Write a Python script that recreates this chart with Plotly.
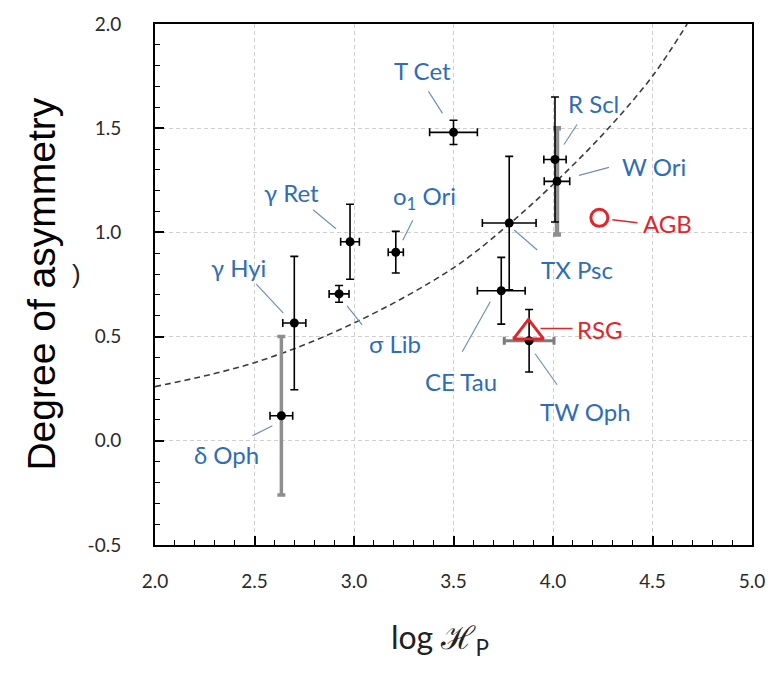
import plotly.graph_objects as go

# ---------------- data ----------------
star_names = ["δ Oph", "γ Hyi", "σ Lib", "γ Ret", "o<sub>1</sub> Ori", "T Cet",
              "CE Tau", "TX Psc", "TW Oph", "R Scl", "W Ori"]
log_hp = [2.635, 2.70, 2.925, 2.98, 3.21, 3.50, 3.74, 3.78, 3.88, 4.01, 4.02]
log_hp_err = [0.057, 0.058, 0.05, 0.047, 0.038, 0.12, 0.12, 0.135, 0.125, 0.056, 0.064]
asymmetry = [0.12, 0.565, 0.705, 0.955, 0.905, 1.48, 0.72, 1.045, 0.48, 1.35, 1.245]
asymmetry_err = [0.38, 0.32, 0.04, 0.18, 0.10, 0.058, 0.16, 0.32, 0.15, 0.30, 0.255]

group_names = ["AGB", "RSG"]
group_x = [4.233, 3.877]
group_y = [1.07, 0.52]

curve_x = [2.0, 2.5, 3.0, 3.5, 3.78, 4.0, 4.25, 4.5, 4.674]
curve_y = [0.26, 0.375, 0.565, 0.83, 1.04, 1.23, 1.47, 1.75, 2.0]

x_tick_vals = [2.0, 2.5, 3.0, 3.5, 4.0, 4.5, 5.0]
x_tick_text = ["2.0", "2.5", "3.0", "3.5", "4.0", "4.5", "5.0"]
y_tick_vals = [-0.5, 0.0, 0.5, 1.0, 1.5, 2.0]
y_tick_text = ["-0.5", "0.0", "0.5", "1.0", "1.5", "2.0"]

# ---------------- styling / layout (not data) ----------------
BLUE = "#2f6db5"
LEADER = "#7090b8"
RED = "#e0262b"
LABEL_FONT = dict(family="Lato", size=24, color=BLUE)

# special error-bar styles: name -> {"x"/"y": (color, thickness)}
ERR_STYLE = {
    "δ Oph": {"y": ("#8e8e8e", 3.5)},
    "W Ori": {"y": ("#8e8e8e", 4.5)},
    "TW Oph": {"x": ("#7c7c7c", 3)},
}

# label offsets in screen px relative to the point: (dx, dy, leader x0, y0, x1, y1), y down
LABEL_OFFSETS = {
    "δ Oph": (-55, 39, -29, 20, -9, 10),
    "γ Hyi": (-56, -56, -38, -39, -11, -10),
    "σ Lib": (56, 50, 8, 12, 23, 31),
    "γ Ret": (-59, -49, -37, -32, -14, -13),
    "o<sub>1</sub> Ori": (29, -55, 17, -32, 7, -12),
    "T Cet": (-31, -62, -25, -41, -11, -19),
    "CE Tau": (-40, 91, -39, 61, -11, 11),
    "TX Psc": (68, 46, 5, 7, 28, 27),
    "TW Oph": (56, 71, 6, 13, 28, 44),
    "R Scl": (39, -56, 22, -35, 9, -15),
    "W Ori": (97, -15, 52, -14, 22, -6),
    "AGB": (68, 6, 13, 2, 38, 5),
    "RSG": (71, -3, 12, -4, 44, -4),
}

fig = go.Figure()

# dashed model curve
fig.add_trace(go.Scatter(
    x=curve_x, y=curve_y, mode="lines", line=dict(color="#3c3c3c", width=1.6, dash="6px,4px",
                                                shape="spline"),
    hoverinfo="skip", showlegend=False, cliponaxis=True))

# points with error bars (specially styled first so black bars sit on top)
order = sorted(range(len(star_names)), key=lambda i: 0 if star_names[i] in ERR_STYLE else 1)
for i in order:
    name = star_names[i]
    st = ERR_STYLE.get(name, {})
    xc, xt = st.get("x", ("black", 1.6))
    yc, yt = st.get("y", ("black", 1.6))
    fig.add_trace(go.Scatter(
        x=[log_hp[i]], y=[asymmetry[i]], mode="markers",
        marker=dict(color="black", size=9),
        error_x=dict(type="data", array=[log_hp_err[i]], color=xc, thickness=xt, width=4),
        error_y=dict(type="data", array=[asymmetry_err[i]], color=yc, thickness=yt, width=4),
        showlegend=False, name=name))

# group markers
fig.add_trace(go.Scatter(
    x=[group_x[0]], y=[group_y[0]], mode="markers",
    marker=dict(symbol="circle-open", size=17, color=RED, line=dict(width=3, color=RED)),
    showlegend=False, name=group_names[0]))
fig.add_trace(go.Scatter(
    x=[group_x[1]], y=[group_y[1]], mode="markers",
    marker=dict(symbol="triangle-up-open", size=26, color=RED, line=dict(width=3, color=RED)),
    showlegend=False, name=group_names[1]))

annotations = []
shapes = []


def add_label(name, xv, yv, color, lcolor, lwidth):
    dx, dy, lx0, ly0, lx1, ly1 = LABEL_OFFSETS[name]
    annotations.append(dict(x=xv, y=yv, xref="x", yref="y", text=name, showarrow=False,
                            xshift=dx, yshift=-dy, font=dict(LABEL_FONT, color=color),
                            xanchor="center", yanchor="middle"))
    shapes.append(dict(type="line", xref="x", yref="y", xsizemode="pixel", ysizemode="pixel",
                       xanchor=xv, yanchor=yv, x0=lx0, x1=lx1, y0=-ly0, y1=-ly1,
                       line=dict(color=lcolor, width=lwidth), layer="above"))


for i, name in enumerate(star_names):
    add_label(name, log_hp[i], asymmetry[i], BLUE, LEADER, 1.2)
for i, name in enumerate(group_names):
    add_label(name, group_x[i], group_y[i], RED, RED, 1.5)

# stray glyph partly hidden behind the y title
annotations.append(dict(x=-0.143, y=0.52, xref="paper", yref="paper", text=")",
                        showarrow=False, font=dict(family="Liberation Sans", size=26, color="#222")))
# axis titles
annotations.append(dict(x=-0.19, y=0.501, xref="paper", yref="paper", text="Degree of asymmetry",
                        textangle=-90, showarrow=False, xanchor="center", yanchor="middle",
                        font=dict(family="Liberation Sans", size=39, color="black")))
annotations.append(dict(x=0.478, y=-0.181, xref="paper", yref="paper", text="log ℋ<sub>P</sub>",
                        showarrow=False, xanchor="center", yanchor="middle",
                        font=dict(family="Lato", size=32, color="#222")))

axis_common = dict(
    showline=True, linecolor="black", linewidth=2, mirror=True,
    ticks="inside", ticklen=9, tickwidth=2, tickcolor="black",
    showgrid=True, gridcolor="#cfcfcf", gridwidth=1, griddash="4px,3px",
    zeroline=False,
    tickfont=dict(family="Lato", size=19, color="#2a2a2a"),
)

fig.update_xaxes(range=[2.0, 5.0], tickvals=x_tick_vals, ticktext=x_tick_text,
                 minor=dict(dtick=0.1, tick0=2.0, ticks="inside", ticklen=5, tickwidth=1.2,
                            tickcolor="black", showgrid=False),
                 ticklabelstandoff=18, **axis_common)
fig.update_yaxes(range=[-0.5, 2.0], tickvals=y_tick_vals, ticktext=y_tick_text,
                 minor=dict(dtick=0.1, tick0=0.0, ticks="inside", ticklen=5, tickwidth=1.2,
                            tickcolor="black", showgrid=False),
                 ticklabelstandoff=28, **axis_common)

fig.update_layout(
    width=777, height=677,
    margin=dict(l=155, r=24, t=20, b=132),
    paper_bgcolor="white", plot_bgcolor="white",
    annotations=annotations, shapes=shapes,
    showlegend=False,
)

fig.write_html("out.html")
